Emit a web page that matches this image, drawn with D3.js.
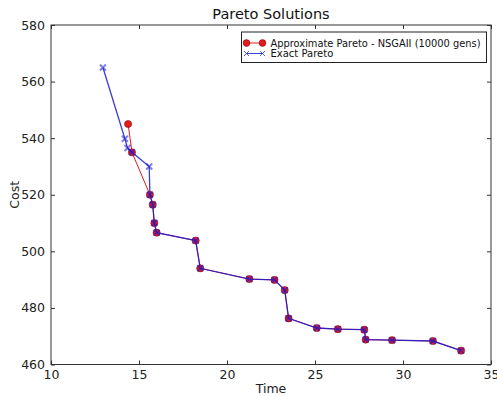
<!DOCTYPE html>
<html>
<head>
<meta charset="utf-8">
<script src="https://cdn.jsdelivr.net/npm/d3@7"></script>
<style>
  body { margin: 0; background: #fff; }
  svg { font-family: "DejaVu Sans", sans-serif; }
</style>
</head>
<body>
<svg id="chart" width="497" height="396"></svg>
<script>
// NSGA-II approximation after 10000 generations
const approxTime = [14.38, 14.6, 15.62, 15.78, 15.87, 16.0, 18.22, 18.48, 21.27, 22.7, 23.28, 23.5, 25.1, 26.3, 27.8, 27.88, 29.38, 31.7, 33.3];
const approxCost = [545.0, 535.0, 520.0, 516.5, 510.0, 506.6, 503.8, 494.0, 490.2, 489.9, 486.3, 476.3, 472.9, 472.5, 472.3, 468.8, 468.6, 468.3, 464.9];

// Exact Pareto front
const exactTime = [12.95, 14.2, 14.35, 14.6, 15.58, 15.62, 15.78, 15.87, 16.0, 18.22, 18.48, 21.27, 22.7, 23.28, 23.5, 25.1, 26.3, 27.8, 27.88, 29.38, 31.7, 33.3];
const exactCost = [565.0, 539.8, 536.5, 535.0, 530.0, 520.0, 516.5, 510.0, 506.6, 503.8, 494.0, 490.2, 489.9, 486.3, 476.3, 472.9, 472.5, 472.3, 468.8, 468.6, 468.3, 464.9];

const xTicks = [10, 15, 20, 25, 30, 35];
const yTicks = [460, 480, 500, 520, 540, 560, 580];

const svg = d3.select("#chart");
const plotL = 51, plotR = 491, plotT = 25, plotB = 364.5;

const x = d3.scaleLinear().domain([10, 35]).range([plotL, plotR]);
const y = d3.scaleLinear().domain([460, 580]).range([plotB, plotT]);

const approx = approxTime.map((t, i) => [t, approxCost[i]]);
const exact = exactTime.map((t, i) => [t, exactCost[i]]);
const line = d3.line().x(d => x(d[0])).y(d => y(d[1]));

const RED = "#e41a1c", BLUE = "#1a1ad0";

// approximate front: red line with circle markers
svg.append("path").datum(approx)
  .attr("d", line).attr("fill", "none")
  .attr("stroke", RED).attr("stroke-width", 1);
svg.append("g").selectAll("circle").data(approx).join("circle")
  .attr("cx", d => x(d[0])).attr("cy", d => y(d[1]))
  .attr("r", 3.6).attr("fill", RED)
  .attr("stroke", "#700010").attr("stroke-width", 0.5);

// exact front: blue line with x markers, drawn on top
const blue = svg.append("g");
blue.append("path").datum(exact)
  .attr("d", line).attr("fill", "none")
  .attr("stroke", BLUE).attr("stroke-width", 1.3).attr("opacity", 0.85);
const xs = 3;
blue.append("g").selectAll("path").data(exact).join("path")
  .attr("d", d => {
    const cx = x(d[0]), cy = y(d[1]);
    return `M${cx - xs},${cy - xs}L${cx + xs},${cy + xs}M${cx - xs},${cy + xs}L${cx + xs},${cy - xs}`;
  })
  .attr("stroke", BLUE).attr("stroke-width", 2).attr("fill", "none")
  .attr("opacity", 0.55);

// axes: ticks inward on all four sides
const axB = svg.append("g").attr("transform", `translate(0,${plotB})`)
  .call(d3.axisBottom(x).tickValues(xTicks).tickSizeInner(-4).tickSizeOuter(0).tickPadding(6));
const axT = svg.append("g").attr("transform", `translate(0,${plotT})`)
  .call(d3.axisTop(x).tickValues(xTicks).tickSizeInner(-4).tickSizeOuter(0).tickFormat(""));
const axL = svg.append("g").attr("transform", `translate(${plotL},0)`)
  .call(d3.axisLeft(y).tickValues(yTicks).tickSizeInner(-4).tickSizeOuter(0).tickPadding(6));
const axR = svg.append("g").attr("transform", `translate(${plotR},0)`)
  .call(d3.axisRight(y).tickValues(yTicks).tickSizeInner(-4).tickSizeOuter(0).tickFormat(""));
[axB, axT, axL, axR].forEach(a => {
  a.select(".domain").remove();
  a.selectAll("line").attr("stroke", "#333");
  a.selectAll("text").attr("font-size", 12.5).attr("fill", "#222")
    .attr("font-family", "DejaVu Sans, sans-serif");
});

svg.append("rect")
  .attr("x", plotL).attr("y", plotT)
  .attr("width", plotR - plotL).attr("height", plotB - plotT)
  .attr("fill", "none").attr("stroke", "#333").attr("stroke-width", 1);

// titles
svg.append("text").attr("x", (plotL + plotR) / 2).attr("y", 19)
  .attr("text-anchor", "middle").attr("font-size", 14.5).attr("fill", "#111")
  .text("Pareto Solutions");
svg.append("text").attr("x", (plotL + plotR) / 2).attr("y", 393)
  .attr("text-anchor", "middle").attr("font-size", 12.5).attr("fill", "#222")
  .text("Time");
svg.append("text").attr("transform", `translate(19,${(plotT + plotB) / 2}) rotate(-90)`)
  .attr("text-anchor", "middle").attr("font-size", 12.5).attr("fill", "#222")
  .text("Cost");

// legend
const lg = svg.append("g").attr("transform", "translate(241.5,32)");
lg.append("rect").attr("width", 245).attr("height", 30.5)
  .attr("fill", "#fff").attr("stroke", "#222").attr("stroke-width", 1);
lg.append("line").attr("x1", 5).attr("x2", 21).attr("y1", 11).attr("y2", 11)
  .attr("stroke", RED).attr("stroke-width", 1);
[5, 21].forEach(cx => lg.append("circle").attr("cx", cx).attr("cy", 11).attr("r", 3.4)
  .attr("fill", RED).attr("stroke", "#700010").attr("stroke-width", 0.5));
lg.append("text").attr("x", 29).attr("y", 14.5).attr("font-size", 10).attr("fill", "#111")
  .attr("textLength", 210).attr("lengthAdjust", "spacingAndGlyphs")
  .text("Approximate Pareto - NSGAII (10000 gens)");
lg.append("line").attr("x1", 5).attr("x2", 21).attr("y1", 21.5).attr("y2", 21.5)
  .attr("stroke", BLUE).attr("stroke-width", 1).attr("opacity", 0.85);
[5, 21].forEach(cx => lg.append("path")
  .attr("d", `M${cx - 2.5},${19}L${cx + 2.5},${24}M${cx - 2.5},${24}L${cx + 2.5},${19}`)
  .attr("stroke", BLUE).attr("stroke-width", 1).attr("opacity", 0.7));
lg.append("text").attr("x", 29).attr("y", 25).attr("font-size", 10).attr("fill", "#111")
  .text("Exact Pareto");
</script>
</body>
</html>
